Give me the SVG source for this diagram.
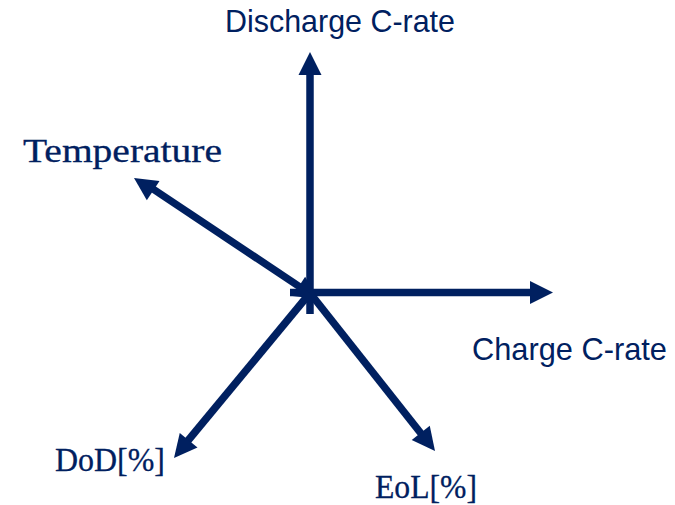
<svg xmlns="http://www.w3.org/2000/svg" width="675" height="505" viewBox="0 0 675 505">
  <style>
    .axis { stroke: #002060; stroke-width: 7.5; fill: none; }
    .head { fill: #002060; }
    .sans { font-family: "Liberation Sans", "Open Sans", sans-serif; font-size: 31.5px; fill: #002060; }
    .serif { font-family: "Liberation Serif", "DejaVu Serif", serif; font-size: 34px; fill: #002060; stroke: #002060; stroke-width: 0.3; }
  </style>
  <defs>
    <!-- arrowhead pointing along +x, tip at origin -->
    <polygon id="tip" points="0,0 -23,-11.5 -23,11.5"/>
  </defs>
  <rect width="675" height="505" fill="#ffffff"/>

  <!-- clipped title fragment at the top edge -->
  <text x="116" y="-6" font-family="Liberation Sans, sans-serif" font-size="28" font-weight="bold" fill="#000000">y</text>

  <g id="connectors">
    <!-- Discharge C-rate (up) -->
    <line class="axis" x1="310" y1="314" x2="310" y2="72"/>
    <use href="#tip" class="head" transform="translate(310,52) rotate(-90)"/>
    <!-- Charge C-rate (right) -->
    <line class="axis" x1="290" y1="292.5" x2="533" y2="292.5"/>
    <use href="#tip" class="head" transform="translate(553,292.5)"/>
    <!-- Temperature (double-headed, up-left) -->
    <line class="axis" x1="153" y1="189" x2="300" y2="287"/>
    <use href="#tip" class="head" transform="translate(134,178) rotate(213.5)"/>
    <use href="#tip" class="head" transform="translate(318,299) rotate(33.5)"/>
    <!-- DoD (down-left) -->
    <line class="axis" x1="310" y1="293" x2="186" y2="443"/>
    <use href="#tip" class="head" transform="translate(174,458) rotate(129.5)"/>
    <!-- EoL (down-right) -->
    <line class="axis" x1="310" y1="293" x2="423" y2="436"/>
    <use href="#tip" class="head" transform="translate(435,451) rotate(51.7)"/>
  </g>

  <g id="discharge">
    <text class="sans" x="225" y="32" textLength="230" lengthAdjust="spacingAndGlyphs">Discharge C-rate</text>
  </g>
  <g id="charge">
    <text class="sans" x="472" y="360" textLength="195" lengthAdjust="spacingAndGlyphs">Charge C-rate</text>
  </g>
  <g id="temperature">
    <text class="serif" x="23" y="162" textLength="199" lengthAdjust="spacingAndGlyphs">Temperature</text>
  </g>
  <g id="dod">
    <text class="serif" x="55" y="471" textLength="110" lengthAdjust="spacingAndGlyphs">DoD[%]</text>
  </g>
  <g id="eol">
    <text class="serif" x="375" y="498" textLength="102" lengthAdjust="spacingAndGlyphs">EoL[%]</text>
  </g>
</svg>
